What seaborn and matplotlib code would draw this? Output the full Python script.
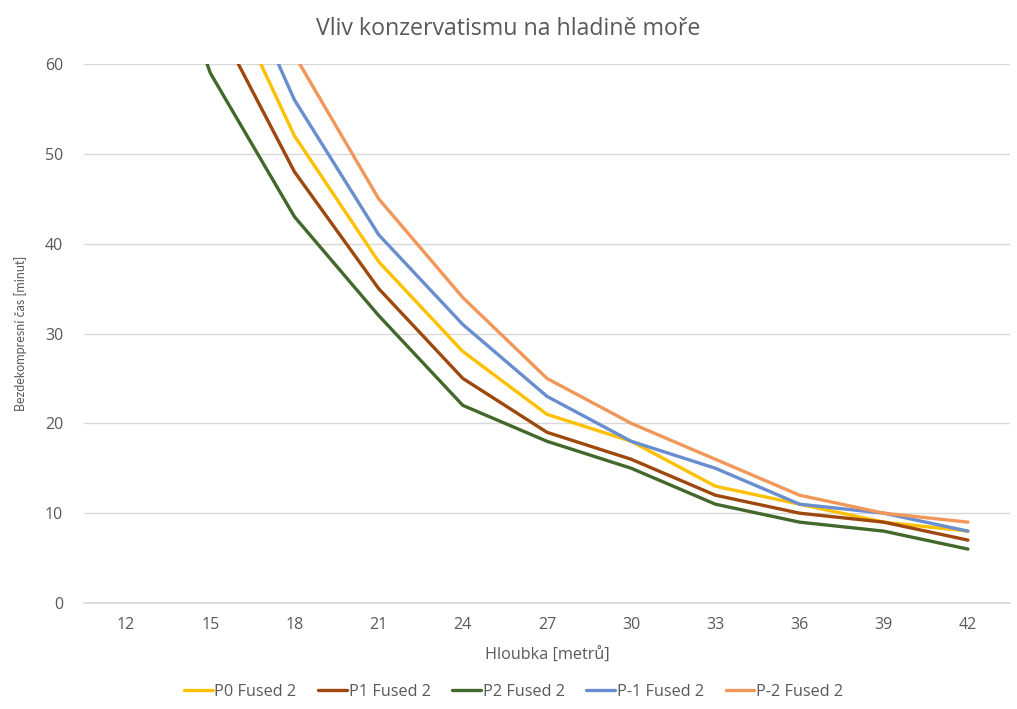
import numpy as np
import pandas as pd
import matplotlib
matplotlib.use("Agg")
import matplotlib.pyplot as plt
from matplotlib import font_manager
import seaborn as sns
from matplotlib.lines import Line2D

depths = [12, 15, 18, 21, 24, 27, 30, 33, 36, 39, 42]
p0 = [110, 72, 52, 38, 28, 21, 18, 13, 11, 9, 8]
p1 = [100, 66, 48, 35, 25, 19, 16, 12, 10, 9, 7]
p2 = [86, 59, 43, 32, 22, 18, 15, 11, 9, 8, 6]
pm1 = [130, 77, 56, 41, 31, 23, 18, 15, 11, 10, 8]
pm2 = [150, 90, 61, 45, 34, 25, 20, 16, 12, 10, 9]
series_names = ["P0 Fused 2", "P1 Fused 2", "P2 Fused 2", "P-1 Fused 2", "P-2 Fused 2"]
colors = ["#FFC000", "#9E480E", "#43682B", "#698ED0", "#F1975A"]

rows = []
for name, vals in zip(series_names, [p0, p1, p2, pm1, pm2]):
    for d, v in zip(depths, vals):
        rows.append({"Hloubka": d, "Čas": v, "Série": name})
df = pd.DataFrame(rows)

sns.set_theme(style="white")
plt.rcParams['font.family'] = ['Open Sans', 'DejaVu Sans']

installed = {f.name for f in font_manager.fontManager.ttflist}
if 'Liberation Sans Narrow' in installed:
    ylab_family, ylab_size = ['Liberation Sans Narrow', 'DejaVu Sans'], 11
else:
    ylab_family, ylab_size = ['Lato', 'DejaVu Sans'], 9.0

fig = plt.figure(figsize=(10.17, 7.09), dpi=100)
ax = fig.add_axes([84/1017, 1-603/709, (1010-84)/1017, (603-64)/709])

sns.lineplot(data=df, x="Hloubka", y="Čas", hue="Série", hue_order=series_names,
             palette=colors, linewidth=2.4, ax=ax, legend=False, sort=False)

ax.set_xlim(10.5, 43.5)
ax.set_ylim(0, 60)
ax.set_xticks(depths)
ax.set_xticklabels([str(d) for d in depths])
ax.set_yticks(range(0, 61, 10))
ax.yaxis.grid(True, color="#D9D9D9", linewidth=1)
ax.xaxis.grid(False)
for s in ["top", "right", "left"]:
    ax.spines[s].set_visible(False)
ax.spines["bottom"].set_color("#D9D9D9")
ax.tick_params(axis="both", length=0, labelsize=11.5, labelcolor="#595959")
ax.tick_params(axis="x", pad=10)
ax.tick_params(axis="y", pad=15)

ax.set_xlabel("Hloubka [metrů]", fontsize=11.7, color="#595959", labelpad=11)
ax.set_ylabel("Bezdekompresní čas [minut]", fontsize=ylab_size, color="#595959", labelpad=13,
              family=ylab_family)
fig.text(0.5, 1-29/709, "Vliv konzervatismu na hladině moře", ha="center", va="center",
         fontsize=16.7, color="#595959")

handles = [Line2D([0], [0], color=c, linewidth=2.4) for c in colors]
fig.legend(handles, series_names, loc="center", bbox_to_anchor=(0.505, 1-692/709), ncol=5,
           frameon=False, fontsize=11.7, labelcolor="#595959", handlelength=1.75,
           handletextpad=0.1, columnspacing=1.35)

fig.savefig("out.png", dpi=100)
